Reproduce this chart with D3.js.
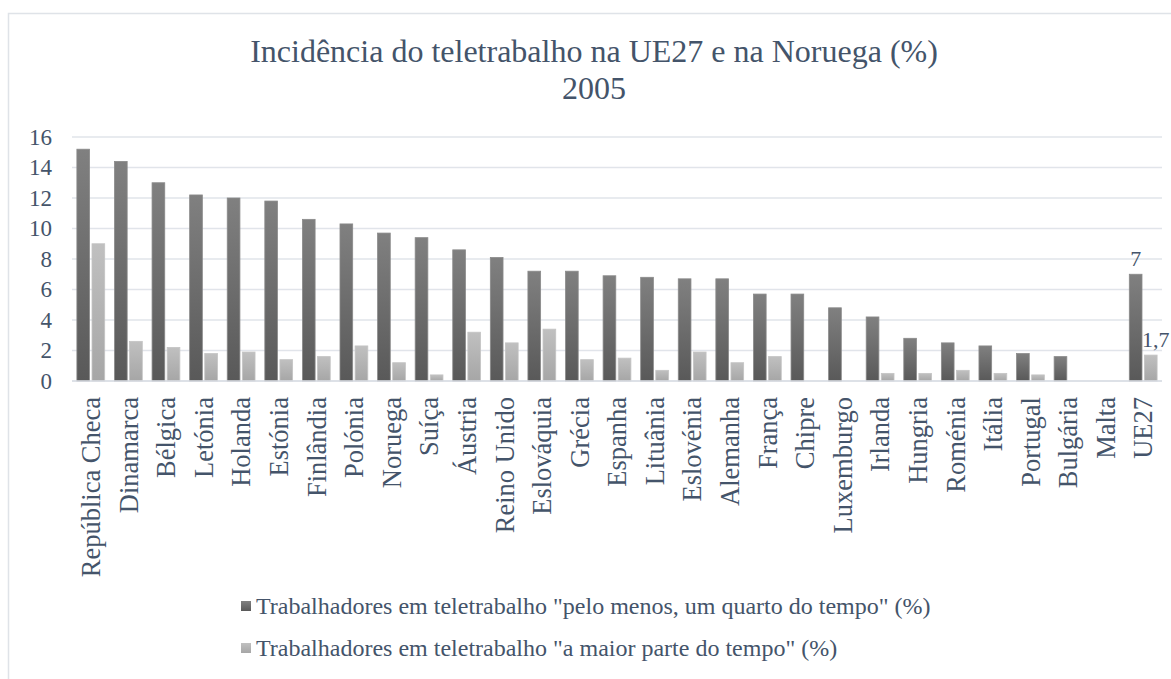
<!DOCTYPE html>
<html>
<head>
<meta charset="utf-8">
<script src="https://cdn.jsdelivr.net/npm/d3@7"></script>
<style>
  body { margin: 0; background: #fff; }
  svg text { font-family: "Liberation Serif", "DejaVu Serif", serif; fill: #44546a; }
</style>
</head>
<body>
<svg class="chart"></svg>
<script>
// categories and values
var countries = ["República Checa", "Dinamarca", "Bélgica", "Letónia", "Holanda", "Estónia",
  "Finlândia", "Polónia", "Noruega", "Suíça", "Áustria", "Reino Unido", "Eslováquia", "Grécia",
  "Espanha", "Lituânia", "Eslovénia", "Alemanha", "França", "Chipre", "Luxemburgo", "Irlanda",
  "Hungria", "Roménia", "Itália", "Portugal", "Bulgária", "Malta", "UE27"];
var quarterTime = [15.2, 14.4, 13.0, 12.2, 12.0, 11.8, 10.6, 10.3, 9.7, 9.4, 8.6, 8.1, 7.2, 7.2,
  6.9, 6.8, 6.7, 6.7, 5.7, 5.7, 4.8, 4.2, 2.8, 2.5, 2.3, 1.8, 1.6, null, 7.0];
var mostTime = [9.0, 2.6, 2.2, 1.8, 1.9, 1.4, 1.6, 2.3, 1.2, 0.4, 3.2, 2.5, 3.4, 1.4,
  1.5, 0.7, 1.9, 1.2, 1.6, null, null, 0.5, 0.5, 0.7, 0.5, 0.4, null, null, 1.7];
var seriesNames = ['Trabalhadores em teletrabalho "pelo menos, um quarto do tempo" (%)',
  'Trabalhadores em teletrabalho "a maior parte do tempo" (%)'];
var yTicks = [0, 2, 4, 6, 8, 10, 12, 14, 16];
var titleLines = ["Incidência do teletrabalho na UE27 e na Noruega (%)", "2005"];
// only the UE27 bars carry data labels
var labelled = { "UE27": ["7", "1,7"] };

var width = 1171, height = 679;
var margin = {top: 137, right: 9, bottom: 298, left: 72};
var serif = '"Liberation Serif", "DejaVu Serif", serif';

var svg = d3.select("svg.chart")
  .attr("width", width)
  .attr("height", height);

// chart frame
svg.append("rect")
  .attr("x", 8.5).attr("y", 13.5)
  .attr("width", 1200).attr("height", 700)
  .attr("fill", "#fff")
  .attr("stroke", "#dfe3e8")
  .attr("stroke-width", 1.5);

// gradients for the two series
var defs = svg.append("defs");
var grads = [["#808080", "#595959"], ["#c0c0c0", "#a6a6a6"]];
grads.forEach(function(c, i) {
  var g = defs.append("linearGradient")
    .attr("id", "grad" + i)
    .attr("x1", 0).attr("y1", 0).attr("x2", 0).attr("y2", 1);
  g.append("stop").attr("offset", "0%").attr("stop-color", c[0]);
  g.append("stop").attr("offset", "100%").attr("stop-color", c[1]);
});
var strokes = ["#8a8a8a", "#c4c4c4"];

// scales
var x0 = d3.scaleBand()
  .domain(countries)
  .range([margin.left, width - margin.right])
  .paddingInner(0.26)
  .paddingOuter(0.13);

var x1 = d3.scaleBand()
  .domain([0, 1])
  .range([0, x0.bandwidth()])
  .paddingInner(0.16);

var y = d3.scaleLinear()
  .domain([0, 16])
  .range([height - margin.bottom, margin.top]);

// gridlines
svg.append("g")
  .selectAll("line")
  .data(yTicks)
  .enter().append("line")
    .attr("x1", margin.left)
    .attr("x2", width - margin.right)
    .attr("y1", function(d) { return y(d); })
    .attr("y2", function(d) { return y(d); })
    .attr("stroke", "#e1e4ea")
    .attr("stroke-width", 1.5);

// y axis labels
svg.append("g")
  .attr("transform", "translate(" + (margin.left - 20) + ",0)")
  .call(d3.axisLeft(y).tickValues(yTicks).tickSize(0).tickPadding(0))
  .call(function(g) { g.select(".domain").remove(); })
  .selectAll("text")
    .attr("font-family", serif)
    .attr("font-size", "23px")
    .attr("fill", "#44546a");

// bars
var rows = countries.map(function(c, i) {
  return {name: c, values: [quarterTime[i], mostTime[i]]};
});

var groups = svg.append("g")
  .selectAll("g")
  .data(rows)
  .enter().append("g")
    .attr("transform", function(d) { return "translate(" + x0(d.name) + ",0)"; });

groups.selectAll("rect")
  .data(function(d) {
    return d.values.map(function(v, k) { return {k: k, v: v}; })
      .filter(function(e) { return e.v != null; });
  })
  .enter().append("rect")
    .attr("x", function(d) { return x1(d.k); })
    .attr("width", x1.bandwidth())
    .attr("y", function(d) { return y(d.v); })
    .attr("height", function(d) { return y(0) - y(d.v); })
    .attr("fill", function(d) { return "url(#grad" + d.k + ")"; })
    .attr("stroke", function(d) { return strokes[d.k]; })
    .attr("stroke-width", 0.8);

// data labels on UE27
groups.filter(function(d) { return labelled[d.name]; })
  .selectAll("text.lbl")
  .data(function(d) {
    return d.values.map(function(v, k) { return {k: k, v: v, t: labelled[d.name][k]}; });
  })
  .enter().append("text")
    .attr("class", "lbl")
    .attr("x", function(d) { return x1(d.k) + x1.bandwidth() / 2 + (d.k === 1 ? 5 : 0); })
    .attr("y", function(d) { return y(d.v) - 8; })
    .attr("text-anchor", "middle")
    .attr("font-family", serif)
    .attr("font-size", "22px")
    .text(function(d) { return d.t; });

// x axis line
svg.append("line")
  .attr("x1", margin.left).attr("x2", width - margin.right)
  .attr("y1", y(0)).attr("y2", y(0))
  .attr("stroke", "#dadee5")
  .attr("stroke-width", 1.5);

// category labels
svg.append("g")
  .selectAll("text")
  .data(countries)
  .enter().append("text")
    .attr("transform", function(d) {
      return "translate(" + (x0(d) + x0.bandwidth() / 2) + "," + (y(0) + 16) + ") rotate(-90)";
    })
    .attr("text-anchor", "end")
    .attr("dy", "0.35em")
    .attr("font-family", serif)
    .attr("font-size", "26.5px")
    .text(function(d) { return d; });

// title
svg.append("text")
  .attr("x", 594)
  .attr("y", 62)
  .attr("text-anchor", "middle")
  .attr("font-family", serif)
  .attr("font-size", "32px")
  .selectAll("tspan")
  .data(titleLines)
  .enter().append("tspan")
    .attr("x", 594)
    .attr("dy", function(d, i) { return i === 0 ? 0 : 37; })
    .text(function(d) { return d; });

// legend
var legend = svg.append("g")
  .selectAll("g")
  .data(seriesNames)
  .enter().append("g")
    .attr("transform", function(d, i) { return "translate(241," + (606 + i * 42) + ")"; });

legend.append("rect")
  .attr("x", 0).attr("y", -5)
  .attr("width", 10).attr("height", 10)
  .attr("fill", function(d, i) { return "url(#grad" + i + ")"; });

legend.append("text")
  .attr("x", 15)
  .attr("dy", "0.35em")
  .attr("font-family", serif)
  .attr("font-size", "24px")
  .text(function(d) { return d; });
</script>
</body>
</html>
